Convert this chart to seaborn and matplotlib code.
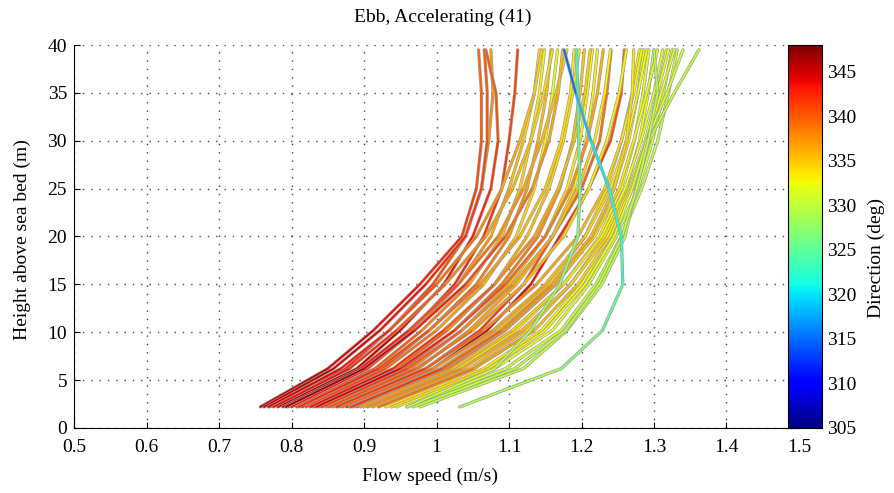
import numpy as np
import pandas as pd
import matplotlib
matplotlib.use("Agg")
import matplotlib.pyplot as plt
import seaborn as sns
from matplotlib.collections import LineCollection
from matplotlib.colors import Normalize
from matplotlib.cm import ScalarMappable

# ---------------- data ----------------
heights = [2.2, 6.2, 10.2, 15, 20, 25, 30, 35, 39.5]

speed_profiles = [
    [0.757, 0.850, 0.913, 0.977, 1.035, 1.055, 1.062, 1.062, 1.058],
    [0.770, 0.875, 0.935, 0.995, 1.040, 1.062, 1.072, 1.078, 1.075],
    [0.781, 0.890, 0.950, 1.010, 1.050, 1.075, 1.085, 1.082, 1.068],
    [0.795, 0.900, 0.965, 1.025, 1.065, 1.090, 1.100, 1.108, 1.112],
    [0.800, 0.905, 0.970, 1.030, 1.075, 1.100, 1.120, 1.135, 1.142],
    [0.807, 0.915, 0.980, 1.045, 1.090, 1.115, 1.130, 1.142, 1.149],
    [0.815, 0.925, 0.990, 1.055, 1.100, 1.125, 1.140, 1.152, 1.158],
    [0.820, 0.930, 1.000, 1.065, 1.110, 1.135, 1.150, 1.160, 1.167],
    [0.830, 0.945, 1.015, 1.080, 1.125, 1.155, 1.175, 1.188, 1.197],
    [0.838, 0.955, 1.025, 1.090, 1.140, 1.170, 1.188, 1.198, 1.204],
    [0.848, 0.965, 1.035, 1.100, 1.150, 1.180, 1.198, 1.208, 1.215],
    [0.857, 0.975, 1.045, 1.110, 1.160, 1.190, 1.206, 1.216, 1.222],
    [0.865, 0.985, 1.060, 1.120, 1.160, 1.200, 1.225, 1.235, 1.241],
    [0.876, 0.995, 1.070, 1.130, 1.170, 1.210, 1.240, 1.255, 1.259],
    [0.880, 1.005, 1.085, 1.155, 1.205, 1.235, 1.255, 1.270, 1.280],
    [0.890, 1.015, 1.095, 1.165, 1.215, 1.245, 1.265, 1.278, 1.286],
    [0.900, 1.030, 1.110, 1.175, 1.225, 1.255, 1.273, 1.285, 1.293],
    [0.912, 1.045, 1.125, 1.185, 1.232, 1.262, 1.280, 1.292, 1.300],
    [0.930, 1.065, 1.145, 1.200, 1.240, 1.270, 1.290, 1.305, 1.317],
    [0.945, 1.080, 1.160, 1.210, 1.248, 1.278, 1.298, 1.313, 1.325],
    [0.959, 1.095, 1.172, 1.220, 1.255, 1.283, 1.305, 1.320, 1.332],
    [0.977, 1.120, 1.180, 1.228, 1.260, 1.275, 1.293, 1.328, 1.362],
    [0.762, 0.858, 0.922, 0.985, 1.040, 1.062, 1.070, 1.070, 1.066],
    [0.768, 0.868, 0.935, 1.000, 1.055, 1.090, 1.115, 1.135, 1.145],
    [0.775, 0.880, 0.945, 1.012, 1.068, 1.105, 1.130, 1.148, 1.160],
    [0.788, 0.895, 0.962, 1.030, 1.085, 1.120, 1.145, 1.165, 1.180],
    [0.810, 0.920, 0.990, 1.060, 1.115, 1.150, 1.172, 1.185, 1.190],
    [0.826, 0.940, 1.010, 1.080, 1.135, 1.168, 1.190, 1.205, 1.212],
    [0.842, 0.960, 1.035, 1.105, 1.160, 1.195, 1.218, 1.232, 1.240],
    [0.852, 0.972, 1.050, 1.120, 1.175, 1.210, 1.235, 1.252, 1.262],
    [0.862, 0.985, 1.065, 1.138, 1.195, 1.232, 1.255, 1.272, 1.283],
    [0.870, 0.995, 1.078, 1.150, 1.205, 1.240, 1.262, 1.278, 1.290],
    [0.885, 1.010, 1.092, 1.163, 1.218, 1.252, 1.272, 1.290, 1.305],
    [0.895, 1.022, 1.105, 1.175, 1.228, 1.260, 1.282, 1.300, 1.312],
    [0.905, 1.035, 1.118, 1.185, 1.236, 1.266, 1.288, 1.305, 1.320],
    [0.920, 1.052, 1.135, 1.195, 1.240, 1.268, 1.290, 1.310, 1.328],
    [0.938, 1.072, 1.150, 1.205, 1.245, 1.270, 1.290, 1.318, 1.340],
    [0.792, 0.900, 0.970, 1.040, 1.095, 1.132, 1.155, 1.168, 1.174],
    [0.834, 0.950, 1.025, 1.095, 1.150, 1.185, 1.208, 1.222, 1.230],
    [0.882, 1.008, 1.090, 1.160, 1.213, 1.245, 1.262, 1.270, 1.272],
    [0.968, 1.108, 1.178, 1.224, 1.256, 1.276, 1.292, 1.305, 1.300],
    [0.960, 1.080, 1.130, 1.170, 1.195, 1.198, 1.196, 1.195, 1.193],
    [1.032, 1.172, 1.229, 1.257, 1.255, 1.238, 1.213, 1.192, 1.176],
]

direction_profiles = [
    [346, 345, 344, 343, 342, 341, 340, 340, 339],
    [344, 343, 342, 341, 340, 339, 338, 337, 337],
    [347, 346, 345, 344, 343, 342, 341, 340, 340],
    [345, 344, 343, 343, 342, 342, 341, 341, 341],
    [344, 342, 340, 338, 337, 336, 335, 334, 334],
    [343, 341, 339, 337, 336, 335, 334, 333, 333],
    [345, 343, 341, 339, 338, 337, 336, 335, 335],
    [342, 340, 338, 336, 335, 334, 333, 333, 332],
    [343, 341, 339, 337, 336, 335, 334, 334, 333],
    [344, 342, 340, 339, 338, 337, 336, 335, 335],
    [341, 339, 337, 336, 335, 334, 333, 333, 332],
    [340, 338, 337, 336, 335, 334, 333, 333, 333],
    [344, 343, 342, 341, 340, 340, 339, 339, 338],
    [347, 346, 345, 344, 343, 342, 341, 340, 339],
    [339, 337, 336, 335, 334, 333, 333, 333, 333],
    [342, 340, 338, 336, 335, 334, 334, 333, 333],
    [335, 334, 334, 333, 333, 333, 332, 332, 332],
    [337, 336, 335, 334, 334, 333, 333, 332, 332],
    [334, 333, 333, 332, 332, 332, 331, 331, 331],
    [333, 332, 332, 332, 331, 331, 331, 331, 331],
    [331, 331, 331, 330, 330, 330, 330, 330, 330],
    [330, 330, 330, 330, 330, 330, 330, 330, 330],
    [346, 345, 344, 343, 342, 341, 341, 340, 340],
    [345, 344, 342, 340, 338, 337, 336, 335, 334],
    [344, 343, 341, 339, 337, 336, 335, 334, 334],
    [345, 344, 342, 340, 338, 337, 336, 335, 334],
    [343, 342, 340, 338, 336, 335, 334, 334, 333],
    [344, 343, 341, 339, 337, 336, 335, 335, 334],
    [342, 341, 339, 337, 336, 335, 334, 333, 333],
    [341, 340, 338, 336, 335, 334, 333, 333, 333],
    [343, 341, 339, 337, 336, 335, 334, 333, 333],
    [340, 339, 337, 336, 335, 334, 333, 333, 332],
    [341, 339, 337, 336, 335, 334, 333, 332, 332],
    [338, 336, 335, 334, 333, 333, 332, 332, 332],
    [339, 337, 336, 335, 334, 333, 332, 332, 332],
    [340, 338, 336, 335, 334, 333, 333, 332, 332],
    [335, 334, 333, 333, 332, 332, 331, 331, 331],
    [347, 346, 344, 342, 340, 338, 337, 336, 335],
    [345, 344, 342, 340, 339, 338, 337, 336, 336],
    [343, 341, 339, 337, 336, 335, 334, 334, 333],
    [330, 330, 330, 330, 330, 330, 330, 329, 329],
    [331, 330, 329, 328, 327, 326, 325, 324, 323],
    [330, 328, 326, 324, 322, 321, 320, 317, 313],
]

x_ticks = [0.5, 0.6, 0.7, 0.8, 0.9, 1.0, 1.1, 1.2, 1.3, 1.4, 1.5]
x_tick_labels = ["0.5", "0.6", "0.7", "0.8", "0.9", "1", "1.1", "1.2", "1.3", "1.4", "1.5"]
y_ticks = [0, 5, 10, 15, 20, 25, 30, 35, 40]
cbar_ticks = [305, 310, 315, 320, 325, 330, 335, 340, 345]
dir_min, dir_max = 305, 348

title_text = "Ebb, Accelerating (41)"
x_label = "Flow speed (m/s)"
y_label = "Height above sea bed (m)"
cbar_label = "Direction (deg)"

# ---------------- long table ----------------
rows = []
for pid, (sp, dr) in enumerate(zip(speed_profiles, direction_profiles)):
    for h, s, d in zip(heights, sp, dr):
        rows.append({"profile": pid, "height": h, "speed": s, "direction": d})
df = pd.DataFrame(rows)

# ---------------- style ----------------
sns.set_theme(style="white")
plt.rcParams["font.family"] = ["Liberation Serif", "DejaVu Serif"]
plt.rcParams["axes.edgecolor"] = "black"
plt.rcParams["text.color"] = "black"
plt.rcParams["xtick.color"] = "black"
plt.rcParams["ytick.color"] = "black"

W, H = 894, 493
fig = plt.figure(figsize=(W / 100, H / 100), dpi=100)
ax = fig.add_axes([74 / W, 1 - 428 / H, 725 / W, 383 / H])
cax = fig.add_axes([788 / W, 1 - 428 / H, 34 / W, 383 / H])

cmap = plt.get_cmap("jet")
norm = Normalize(dir_min, dir_max)

for pid in range(len(speed_profiles)):
    sub = df[df["profile"] == pid]
    sns.lineplot(data=sub, x="speed", y="height", sort=False, estimator=None,
                 orient="y", color="#9c9c9c", lw=2.3, ax=ax, legend=False,
                 zorder=3 + 2 * pid, solid_capstyle="round", solid_joinstyle="round")
    pts = np.column_stack([sub["speed"].values, sub["height"].values])
    segs = np.stack([pts[:-1], pts[1:]], axis=1)
    dv = sub["direction"].values
    seg_dir = (dv[:-1] + dv[1:]) / 2.0
    lc = LineCollection(segs, cmap=cmap, norm=norm, linewidths=1.3,
                        zorder=4 + 2 * pid, capstyle="round", joinstyle="round")
    lc.set_array(seg_dir)
    ax.add_collection(lc)

ax.set_xlim(0.5, 1.5)
ax.set_ylim(0, 40)
ax.set_xticks(x_ticks)
ax.set_xticklabels(x_tick_labels)
ax.set_yticks(y_ticks)
ax.set_xlabel("")
ax.set_ylabel("")
ax.grid(True, linestyle=(0, (1, 5)), color="#444444", linewidth=1.0)
ax.set_axisbelow(True)
for side in ["top", "right"]:
    ax.spines[side].set_visible(False)
for side in ["left", "bottom"]:
    ax.spines[side].set_color("black")
    ax.spines[side].set_linewidth(0.8)
ax.tick_params(direction="in", length=4, width=0.8, labelsize=14,
               bottom=True, left=True)
ax.tick_params(axis="x", pad=8)
ax.tick_params(axis="y", pad=5)

sm = ScalarMappable(norm=norm, cmap=cmap)
cb = fig.colorbar(sm, cax=cax, ticks=cbar_ticks)
cb.outline.set_edgecolor("black")
cb.outline.set_linewidth(0.8)
cax.tick_params(direction="in", length=4, width=0.8, labelsize=14, pad=4,
                left=True, right=True)

fig.text(443 / W, 1 - 17 / H, title_text, ha="center", va="center", fontsize=14)
fig.text(430 / W, 1 - 476 / H, x_label, ha="center", va="center", fontsize=14)
fig.text(22 / W, 1 - 240 / H, y_label, ha="center", va="center", fontsize=14, rotation=90)
fig.text(876 / W, 1 - 258 / H, cbar_label, ha="center", va="center", fontsize=14, rotation=90)

fig.savefig("out.png", dpi=100)
